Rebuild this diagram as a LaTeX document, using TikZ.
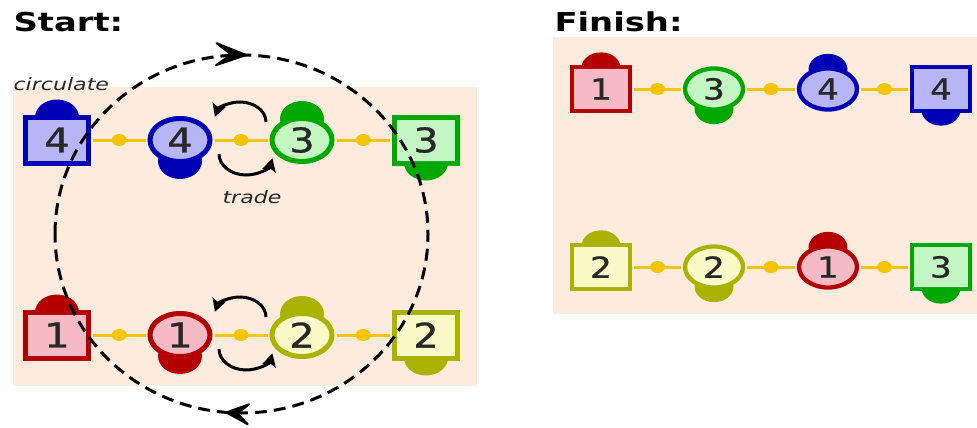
\documentclass[tikz,border=0pt]{standalone}
\usepackage{fontspec}
\setmainfont{DejaVu Sans}
\newfontfamily\numfont[FakeBold=0.8]{DejaVu Sans}
\usetikzlibrary{shapes.geometric,arrows.meta,calc,decorations.markings}
\pgfdeclarelayer{background}
\pgfsetlayers{background,main}
\definecolor{bluebd}{RGB}{0,0,180}
\definecolor{bluefill}{RGB}{182,182,246}
\definecolor{greenbd}{RGB}{0,168,0}
\definecolor{greenfill}{RGB}{196,246,196}
\definecolor{redbd}{RGB}{180,0,0}
\definecolor{redfill}{RGB}{246,186,196}
\definecolor{ylbd}{RGB}{170,180,0}
\definecolor{ylfill}{RGB}{250,250,200}
\definecolor{peach}{RGB}{253,236,222}
\definecolor{gold}{RGB}{246,196,0}
\definecolor{ink}{RGB}{40,40,40}
\newcommand\numtext[1]{\scalebox{1.18}[1]{\numfont\fontsize{\numsize}{\numsize}\selectfont #1}}
\newcommand\elem[8]{%
  \node[#2, draw=#5bd, fill=#5fill] (#1) at (#3,#4) {\numtext{#6}};
  \begin{pgfonlayer}{background}
    \fill[#5bd] ($(#1.#7)+(0,#8)$) ellipse[x radius=\bumprx, y radius=\bumpry];
  \end{pgfonlayer}}
\newcommand\tradearrows[3]{%
  \coordinate (#1) at ($(#2)!0.5!(#3)$);
  \draw[tradearr] ($(#1)+(25,-18)$) arc[start angle=0, end angle=165, x radius=26pt, y radius=20pt];
  \draw[tradearr] ($(#1)+(-22,14)$) arc[start angle=180, end angle=348, x radius=27pt, y radius=21pt];}
\tikzset{
  sqL/.style={rectangle, inner sep=0pt, minimum width=63pt, minimum height=46pt, line width=5pt, text=ink},
  ciL/.style={ellipse, inner sep=0pt, minimum width=60pt, minimum height=43pt, line width=5pt, text=ink},
  sqR/.style={rectangle, inner sep=0pt, minimum width=58pt, minimum height=44pt, line width=4.3pt, text=ink},
  ciR/.style={ellipse, inner sep=0pt, minimum width=58pt, minimum height=41pt, line width=4.3pt, text=ink},
  link/.style={draw=gold, line width=3pt, shorten <=2pt, shorten >=2pt},
  dot/.style={ellipse, fill=gold, inner sep=0pt, minimum width=15pt, minimum height=12pt, midway},
  tradearr/.style={line width=3pt, black, -{Stealth[length=13pt,width=14pt,inset=3pt]}},
  title/.style={anchor=base west, font=\bfseries\fontsize{26pt}{26pt}\selectfont, text=black},
  lbl/.style={anchor=base west, font=\itshape\fontsize{17pt}{17pt}\selectfont, text=ink},
  circ/.style={line width=3pt, dash pattern=on 12pt off 7pt, black},
  loophead/.style={solid, fill=black, draw=black, line width=2pt, line join=round},
}
\begin{document}
\begin{tikzpicture}[x=1pt,y=-1pt]
\useasboundingbox (0,0) rectangle (977,428);
\begin{pgfonlayer}{background}
  \fill[peach] (13,87) rectangle (477,386);
  \fill[peach] (553,37) rectangle (977,314);
\end{pgfonlayer}
\node[title] (start) at (10,32) {\scalebox{1.3}[1]{Start:}};
\node[title] (finish) at (551,32) {\scalebox{1.3}[1]{Finish:}};
\node[lbl] (circlbl) at (10,90) {\scalebox{1.3}[1]{circulate}};
\node[lbl] (tradelbl) at (219,203) {\scalebox{1.3}[1]{trade}};
% left panel
\def\numsize{34pt}\def\bumprx{22pt}\def\bumpry{18pt}
\elem{s4a}{sqL}{57}{140}{blue}{4}{north}{3}
\elem{c4a}{ciL}{180}{140}{blue}{4}{south}{-3}
\elem{c3a}{ciL}{302}{140}{green}{3}{north}{3}
\elem{s3a}{sqL}{426}{140}{green}{3}{south}{-3}
\elem{s1b}{sqL}{57}{335}{red}{1}{north}{3}
\elem{c1b}{ciL}{180}{335}{red}{1}{south}{-3}
\elem{c2b}{ciL}{302}{335}{yl}{2}{north}{3}
\elem{s2b}{sqL}{426}{335}{yl}{2}{south}{-3}
\draw[link] (s4a) -- node[dot] (da1) {} (c4a);
\draw[link] (c4a) -- node[dot] (da2) {} (c3a);
\draw[link] (c3a) -- node[dot] (da3) {} (s3a);
\draw[link] (s1b) -- node[dot] (db1) {} (c1b);
\draw[link] (c1b) -- node[dot] (db2) {} (c2b);
\draw[link] (c2b) -- node[dot] (db3) {} (s2b);
\tradearrows{ma}{c4a}{c3a}
\tradearrows{mb}{c1b}{c2b}
% right panel
\def\numsize{29pt}\def\bumprx{19.5pt}\def\bumpry{15.5pt}
\elem{s1c}{sqR}{601}{89}{red}{1}{north}{3}
\elem{c3c}{ciR}{714}{89}{green}{3}{south}{-3}
\elem{c4c}{ciR}{828}{89}{blue}{4}{north}{3}
\elem{s4c}{sqR}{941}{89}{blue}{4}{south}{-3}
\elem{s2d}{sqR}{601}{267}{yl}{2}{north}{3}
\elem{c2d}{ciR}{714}{267}{yl}{2}{south}{-3}
\elem{c1d}{ciR}{828}{267}{red}{1}{north}{3}
\elem{s3d}{sqR}{941}{267}{green}{3}{south}{-3}
\draw[link] (s1c) -- node[dot] (dc1) {} (c3c);
\draw[link] (c3c) -- node[dot] (dc2) {} (c4c);
\draw[link] (c4c) -- node[dot] (dc3) {} (s4c);
\draw[link] (s2d) -- node[dot] (dd1) {} (c2d);
\draw[link] (c2d) -- node[dot] (dd2) {} (c1d);
\draw[link] (c1d) -- node[dot] (dd3) {} (s3d);
% circulation loop
\coordinate (loopstart) at (55,234);
\draw[circ, postaction={decorate}, decoration={markings,
    mark=at position 0.255 with {\filldraw[loophead] (-1pt,0pt) -- (-31pt,11pt) -- (-16pt,0pt) -- (-31pt,-11pt) -- cycle;},
    mark=at position 0.764 with {\filldraw[loophead] (-1pt,0pt) -- (-23pt,10pt) -- (-12pt,0pt) -- (-23pt,-10pt) -- cycle;}}]
  (loopstart) arc[start angle=180, end angle=-180, x radius=186.5pt, y radius=179pt];
\end{tikzpicture}
\end{document}
